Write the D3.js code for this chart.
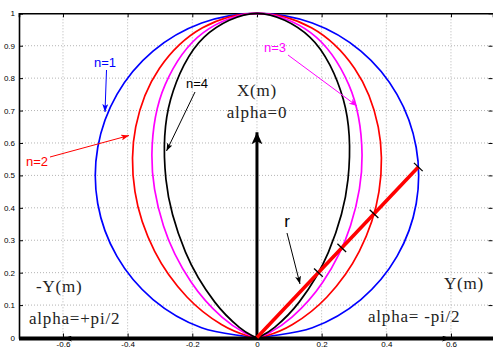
<!DOCTYPE html>
<html>
<head>
<meta charset="utf-8">
<script src="https://cdn.jsdelivr.net/npm/d3@7/dist/d3.min.js"></script>
<style>
  html, body { margin: 0; padding: 0; background: #fff; }
  svg { display: block; }
</style>
</head>
<body>
<svg id="chart" width="493" height="349"></svg>
<script>
// Polar angle (deg) measured from the X axis (vertical), positive towards -Y (left)
const alphaDeg = [-90, -80, -70, -60, -50, -40, -30, -20, -10, 0, 10, 20, 30, 40, 50, 60, 70, 80, 90];
// Radius of each curve at those angles
const rN1 = [0, 0.174, 0.342, 0.500, 0.643, 0.766, 0.866, 0.940, 0.985, 1, 0.985, 0.940, 0.866, 0.766, 0.643, 0.500, 0.342, 0.174, 0];
const rN2 = [0, 0.030, 0.117, 0.250, 0.413, 0.587, 0.750, 0.883, 0.970, 1, 0.970, 0.883, 0.750, 0.587, 0.413, 0.250, 0.117, 0.030, 0];
const rN3 = [0, 0.005, 0.040, 0.125, 0.266, 0.450, 0.650, 0.830, 0.955, 1, 0.955, 0.830, 0.650, 0.450, 0.266, 0.125, 0.040, 0.005, 0];
const rN4 = [0, 0.001, 0.014, 0.063, 0.171, 0.344, 0.563, 0.781, 0.941, 1, 0.941, 0.781, 0.563, 0.344, 0.171, 0.063, 0.014, 0.001, 0];

const seriesNames = ["n=1", "n=2", "n=3", "n=4"];
const seriesColors = ["#0000ff", "#ff0000", "#ff00ff", "#000000"];
const seriesRadii = [rN1, rN2, rN3, rN4];

// Radius line r drawn at a fixed angle, with marks where it crosses each curve
const rayAlphaDeg = -43.5;
const rayMarksR = [0.725, 0.526, 0.381, 0.276];

const xTicks = [-0.6, -0.4, -0.2, 0, 0.2, 0.4, 0.6];
const yTicks = [0, 0.1, 0.2, 0.3, 0.4, 0.5, 0.6, 0.7, 0.8, 0.9, 1];
const xTickLabels = ["-0.6", "-0.4", "-0.2", "0", "0.2", "0.4", "0.6"];
const yTickLabels = ["0", "0.1", "0.2", "0.3", "0.4", "0.5", "0.6", "0.7", "0.8", "0.9", "1"];

const L = 19, R = 493, T = 13.3, B = 337.5;
const x = d3.scaleLinear().domain([-0.736, 0.73]).range([L, R]);
const y = d3.scaleLinear().domain([0, 1]).range([B, T]);

const svg = d3.select("#chart");
const rad = d => d * Math.PI / 180;
// polar -> horizontal (Y to the right is -alpha) and vertical (X up)
const px = (r, a) => x(-r * Math.sin(rad(a)));
const py = (r, a) => y(r * Math.cos(rad(a)));

const defs = svg.append("defs");
function marker(id, color, w, h) {
  defs.append("marker").attr("id", id)
    .attr("viewBox", `0 0 ${w} ${h}`).attr("refX", w).attr("refY", h / 2)
    .attr("markerWidth", w).attr("markerHeight", h)
    .attr("markerUnits", "userSpaceOnUse").attr("orient", "auto")
    .append("path").attr("d", `M0,0L${w},${h / 2}L0,${h}L${w * 0.25},${h / 2}Z`).attr("fill", color);
}
marker("arBlue", "#0000ff", 8, 6);
marker("arRed", "#ff0000", 8, 6);
marker("arMag", "#ff00ff", 8, 6);
marker("arBlack", "#000", 8, 6);
marker("arBig", "#000", 12, 11);
marker("arAxis", "#000", 9, 6);

// grid
const grid = svg.append("g").attr("stroke", "#b4b4b4").attr("stroke-width", 1).attr("stroke-dasharray", "1,2");
grid.selectAll("line.gx").data(xTicks).join("line")
  .attr("x1", d => x(d)).attr("x2", d => x(d)).attr("y1", T).attr("y2", B);
grid.selectAll("line.gy").data(yTicks.slice(1, -1)).join("line")
  .attr("x1", L).attr("x2", R).attr("y1", d => y(d)).attr("y2", d => y(d));

// axes box
const axG = svg.append("g");
axG.append("g").attr("transform", `translate(${L},0)`)
  .call(d3.axisLeft(y).tickValues(yTicks).tickFormat((d, i) => yTickLabels[i]).tickSize(-4).tickPadding(4))
  .call(g => g.select(".domain").attr("stroke-width", 1.6))
  .call(g => g.selectAll("text").attr("font-family", "Liberation Sans, Arial, sans-serif").attr("font-size", 8));
axG.append("g").attr("transform", `translate(${R - 0.5},0)`)
  .call(d3.axisRight(y).tickValues(yTicks).tickFormat("").tickSize(-4))
  .call(g => g.select(".domain").remove());
axG.append("g").attr("transform", `translate(0,${T})`)
  .call(d3.axisTop(x).tickValues(xTicks).tickFormat("").tickSize(-4))
  .call(g => g.select(".domain").attr("stroke-width", 1.6));
axG.append("g").attr("transform", `translate(0,${B})`)
  .call(d3.axisBottom(x).tickValues(xTicks).tickFormat((d, i) => xTickLabels[i]).tickSize(-4).tickPadding(4))
  .call(g => g.select(".domain").remove())
  .call(g => g.selectAll("text").attr("font-family", "Liberation Sans, Arial, sans-serif").attr("font-size", 8));

// curves
const line = d3.line().x(d => d[0]).y(d => d[1]).curve(d3.curveCatmullRom.alpha(0.5));
seriesRadii.forEach((rs, i) => {
  const pts = alphaDeg.map((a, j) => [px(rs[j], a), py(rs[j], a)]);
  svg.append("path").attr("d", line(pts)).attr("fill", "none")
    .attr("stroke", seriesColors[i]).attr("stroke-width", 1.7);
});

// thick horizontal axis with arrow ends
svg.append("line").attr("x1", L).attr("x2", R).attr("y1", B + 1).attr("y2", B + 1)
  .attr("stroke", "#000").attr("stroke-width", 4);
svg.append("line").attr("x1", x(-0.4)).attr("x2", x(-0.6)).attr("y1", B + 1).attr("y2", B + 1)
  .attr("stroke", "#000").attr("stroke-width", 1).attr("marker-end", "url(#arAxis)");
svg.append("line").attr("x1", x(0.4)).attr("x2", x(0.6)).attr("y1", B + 1).attr("y2", B + 1)
  .attr("stroke", "#000").attr("stroke-width", 1).attr("marker-end", "url(#arAxis)");

// vertical X arrow
svg.append("line").attr("x1", x(0)).attr("x2", x(0)).attr("y1", y(0)).attr("y2", y(0.633))
  .attr("stroke", "#000").attr("stroke-width", 3).attr("marker-end", "url(#arBig)");

// radius line r with crossing marks
const rEnd = rayMarksR[0];
svg.append("line").attr("x1", x(0)).attr("y1", y(0))
  .attr("x2", px(rEnd, rayAlphaDeg)).attr("y2", py(rEnd, rayAlphaDeg))
  .attr("stroke", "#ff0000").attr("stroke-width", 3.5);
const dirX = px(1, rayAlphaDeg) - x(0), dirY = py(1, rayAlphaDeg) - y(0);
const len = Math.hypot(dirX, dirY);
const nx = -dirY / len, ny = dirX / len;
svg.selectAll("line.mk").data(rayMarksR).join("line")
  .attr("x1", d => px(d, rayAlphaDeg) + nx * 6).attr("y1", d => py(d, rayAlphaDeg) + ny * 6)
  .attr("x2", d => px(d, rayAlphaDeg) - nx * 6).attr("y2", d => py(d, rayAlphaDeg) - ny * 6)
  .attr("stroke", "#000").attr("stroke-width", 1.3);

// curve labels with pointer arrows
const sans = "Liberation Sans, Arial, sans-serif";
const serif = "Liberation Serif, Times New Roman, serif";
const labels = [
  { t: seriesNames[0], c: seriesColors[0], tx: 105, ty: 67, a: [106.5, 70, 105, 112], m: "arBlue" },
  { t: seriesNames[1], c: seriesColors[1], tx: 37, ty: 166, a: [50, 157, 129, 135.5], m: "arRed" },
  { t: seriesNames[2], c: seriesColors[2], tx: 275, ty: 52, a: [288, 55, 357, 106], m: "arMag" },
  { t: seriesNames[3], c: seriesColors[3], tx: 197, ty: 88, a: [195, 92, 166.5, 151], m: "arBlack" }
];
labels.forEach(l => {
  svg.append("text").attr("x", l.tx).attr("y", l.ty).attr("text-anchor", "middle")
    .attr("font-family", sans).attr("font-size", 13).attr("fill", l.c).text(l.t);
  svg.append("line").attr("x1", l.a[0]).attr("y1", l.a[1]).attr("x2", l.a[2]).attr("y2", l.a[3])
    .attr("stroke", l.c).attr("stroke-width", 1).attr("marker-end", `url(#${l.m})`);
});

// r label
svg.append("text").attr("x", 287).attr("y", 227).attr("text-anchor", "middle")
  .attr("font-family", sans).attr("font-size", 17).text("r");
svg.append("line").attr("x1", 287).attr("y1", 233).attr("x2", 300).attr("y2", 284)
  .attr("stroke", "#000").attr("stroke-width", 1).attr("marker-end", "url(#arBlack)");

// direction captions
const cap = [
  { t: "X(m)", x: 257, y: 96, anchor: "middle" },
  { t: "alpha=0", x: 257, y: 118, anchor: "middle" },
  { t: "-Y(m)", x: 36, y: 292, anchor: "start" },
  { t: "alpha=+pi/2", x: 29, y: 324, anchor: "start" },
  { t: "Y(m)", x: 444, y: 289, anchor: "start" },
  { t: "alpha= -pi/2", x: 368, y: 322, anchor: "start" }
];
svg.selectAll("text.cap").data(cap).join("text")
  .attr("x", d => d.x).attr("y", d => d.y).attr("text-anchor", d => d.anchor)
  .attr("font-family", serif).attr("font-size", 17).attr("letter-spacing", 0.8)
  .attr("fill", "#222").text(d => d.t);
</script>
</body>
</html>
